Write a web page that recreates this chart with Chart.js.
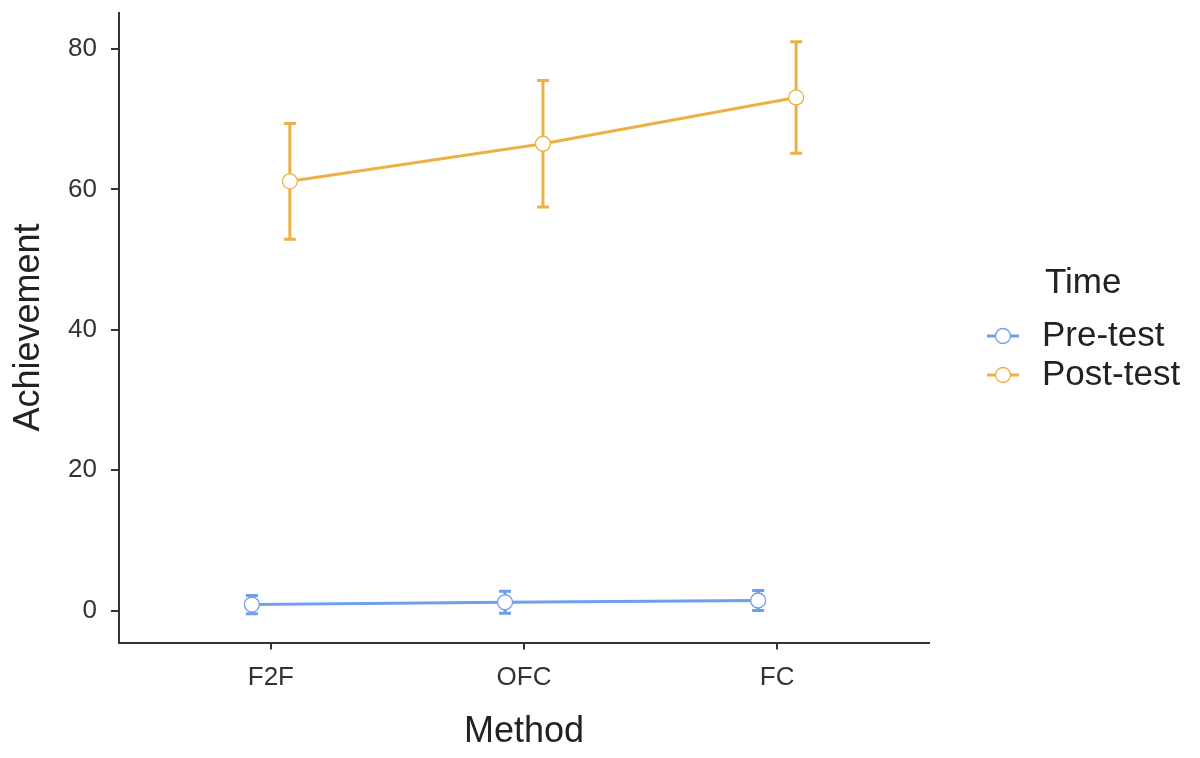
<!DOCTYPE html>
<html>
<head>
<meta charset="utf-8">
<script src="https://cdn.jsdelivr.net/npm/chart.js@4.4.1/dist/chart.umd.min.js"></script>
<style>
  html, body { margin: 0; padding: 0; background: #fff; }
  #wrap { width: 1200px; height: 758px; }
</style>
</head>
<body>
<div id="wrap"><canvas id="chart" width="1200" height="758"></canvas></div>
<script>
const methods = ['F2F', 'OFC', 'FC'];
const timeLabels = ['Pre-test', 'Post-test'];
const preMean = [0.85, 1.18, 1.43];
const preErr = [1.3, 1.57, 1.43];
const postMean = [61.15, 66.5, 73.1];
const postErr = [8.25, 9.0, 7.95];
const yTicks = [0, 20, 40, 60, 80];

const colors = ['#6f9eeb', '#ebb145'];
const dodge = 0.075;
const font = '"Liberation Sans", Arial, sans-serif';

function points(means, shift) {
  return means.map((m, i) => ({ x: i + 1 + shift, y: m }));
}

// error bars drawn through the scales, under the points
const errorBars = {
  id: 'errorBars',
  beforeDatasetsDraw(chart) {
    const ctx = chart.ctx;
    const xs = chart.scales.x, ys = chart.scales.y;
    const sets = [[preMean, preErr, -dodge], [postMean, postErr, dodge]];
    sets.forEach((s, k) => {
      ctx.save();
      ctx.strokeStyle = colors[k];
      ctx.lineWidth = 3;
      s[0].forEach((m, i) => {
        const px = xs.getPixelForValue(i + 1 + s[2]);
        const top = ys.getPixelForValue(m + s[1][i]);
        const bot = ys.getPixelForValue(m - s[1][i]);
        ctx.beginPath();
        ctx.moveTo(px, top); ctx.lineTo(px, bot);
        ctx.moveTo(px - 6, top); ctx.lineTo(px + 6, top);
        ctx.moveTo(px - 6, bot); ctx.lineTo(px + 6, bot);
        ctx.stroke();
      });
      ctx.restore();
    });
  }
};

const legendBox = {
  id: 'legendBox',
  afterDraw(chart) {
    const ctx = chart.ctx;
    ctx.save();
    ctx.fillStyle = '#222';
    ctx.textBaseline = 'middle';
    ctx.textAlign = 'left';
    ctx.font = '35px ' + font;
    ctx.fillText('Time', 1045, 283);
    timeLabels.forEach((t, k) => {
      const y = 336 + k * 39;
      ctx.strokeStyle = colors[k];
      ctx.lineWidth = 3;
      ctx.beginPath();
      ctx.moveTo(987, y); ctx.lineTo(1019, y);
      ctx.stroke();
      ctx.beginPath();
      ctx.arc(1003, y, 7.5, 0, Math.PI * 2);
      ctx.fillStyle = '#fff';
      ctx.fill();
      ctx.lineWidth = 1.3;
      ctx.stroke();
      ctx.fillStyle = '#222';
      ctx.fillText(t, 1042, y);
    });
    ctx.restore();
  }
};

function series(k, means, shift) {
  return {
    label: timeLabels[k],
    data: points(means, shift),
    borderColor: colors[k],
    borderWidth: 3,
    pointRadius: 7.5,
    pointHoverRadius: 7.5,
    pointBorderWidth: 1.3,
    pointBackgroundColor: '#fff',
    pointBorderColor: colors[k],
    showLine: true,
    tension: 0
  };
}

new Chart(document.getElementById('chart'), {
  type: 'scatter',
  data: {
    datasets: [series(0, preMean, -dodge), series(1, postMean, dodge)]
  },
  options: {
    responsive: false,
    animation: false,
    layout: { padding: { top: 12.5, right: 271, left: 0, bottom: 0 } },
    plugins: { legend: { display: false }, tooltip: { enabled: false } },
    scales: {
      x: {
        type: 'linear',
        min: 0.4,
        max: 3.6,
        afterBuildTicks(axis) { axis.ticks = methods.map((m, i) => ({ value: i + 1 })); },
        afterFit(axis) {
          axis.height = 115.5;
          axis.paddingLeft = 0; axis.paddingRight = 0;
        },
        ticks: {
          callback: v => methods[v - 1],
          color: '#333',
          font: { family: font, size: 26 },
          padding: 13,
          maxRotation: 0
        },
        grid: { drawOnChartArea: false, drawTicks: true, tickLength: 7, color: '#333', lineWidth: 2 },
        border: { color: '#333', width: 2 },
        title: {
          display: true,
          text: 'Method',
          color: '#222',
          font: { family: font, size: 36 },
          padding: { bottom: 4 }
        }
      },
      y: {
        min: -4.55,
        max: 85.2,
        afterBuildTicks(axis) { axis.ticks = yTicks.map(v => ({ value: v })); },
        afterFit(axis) {
          axis.width = 119;
          axis.paddingTop = 0; axis.paddingBottom = 0;
        },
        ticks: {
          color: '#333',
          font: { family: font, size: 26 },
          padding: 14
        },
        grid: { drawOnChartArea: false, drawTicks: true, tickLength: 8, color: '#333', lineWidth: 2 },
        border: { color: '#333', width: 2 },
        title: {
          display: true,
          text: 'Achievement',
          color: '#222',
          font: { family: font, size: 36 },
          padding: { top: 7 }
        }
      }
    }
  },
  plugins: [errorBars, legendBox]
});
</script>
</body>
</html>
